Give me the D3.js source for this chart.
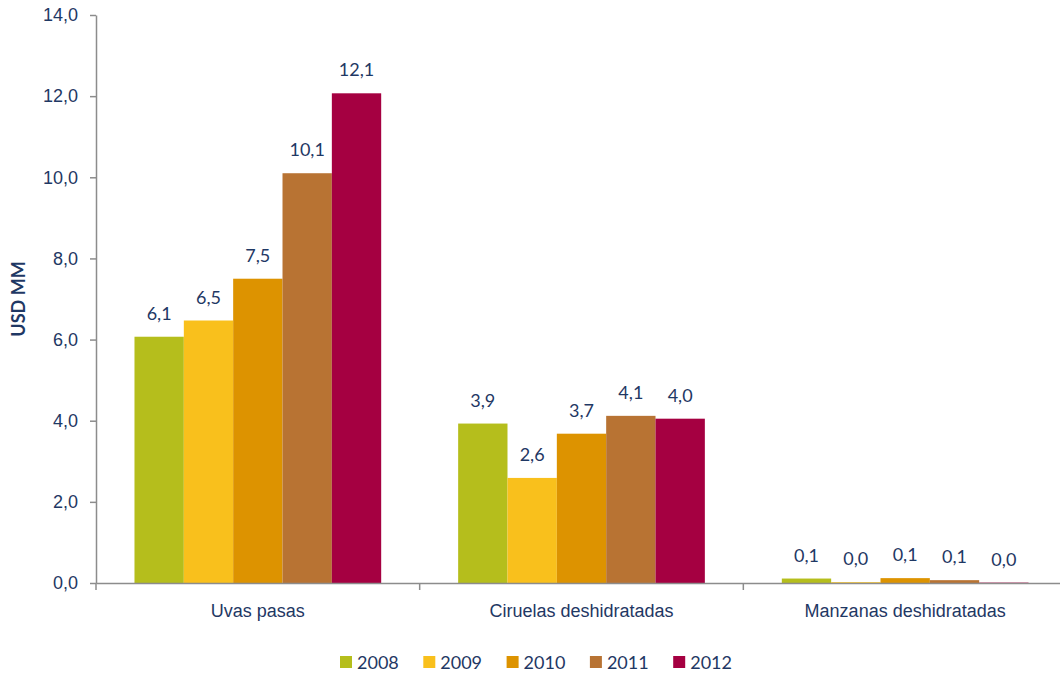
<!DOCTYPE html>
<html>
<head>
<meta charset="utf-8">
<script src="https://cdn.jsdelivr.net/npm/d3@7"></script>
<style>
  body { margin: 0; background: #fff; }
  svg { font-family: Lato, "Open Sans", sans-serif; }
</style>
</head>
<body>
<script>
// data
const categories = ["Uvas pasas", "Ciruelas deshidratadas", "Manzanas deshidratadas"]
const years = ["2008", "2009", "2010", "2011", "2012"]
const values2008 = [6.07, 3.93, 0.11]
const values2009 = [6.47, 2.59, 0.02]
const values2010 = [7.50, 3.68, 0.12]
const values2011 = [10.10, 4.12, 0.07]
const values2012 = [12.07, 4.05, 0.01]
const yTicks = [0, 2, 4, 6, 8, 10, 12, 14]
const colors = ["#B5BE1C", "#F9C01C", "#DD9300", "#B87333", "#A50041"]

const series = [values2008, values2009, values2010, values2011, values2012]

const width = 1060, height = 675
const margins = { left: 96, right: -7, top: 15, bottom: 92 }
const textColor = "#1F3864"
const axisColor = "#8C8C8C"
const fontSize = "18px"

const svg = d3.select("body").append("svg")
    .attr("width", width)
    .attr("height", height)

const y = d3.scaleLinear().domain([0, 14]).range([height - margins.bottom, margins.top])
const x0 = d3.scaleBand().domain(categories).range([margins.left, width - margins.right])
const x1 = d3.scaleBand().domain(years).range([0, x0.bandwidth()]).paddingOuter(0.78).paddingInner(0)

const fmt = v => d3.format(".1f")(v).replace(".", ",")

// bars
const groups = svg.selectAll(".grp")
    .data(categories)
    .enter().append("g")
    .attr("transform", d => "translate(" + x0(d) + ",0)")

groups.each(function (cat, ci) {
    const g = d3.select(this)
    years.forEach((yr, si) => {
        const v = series[si][ci]
        g.append("rect")
            .attr("x", x1(yr))
            .attr("y", y(v))
            .attr("width", x1.bandwidth())
            .attr("height", y(0) - y(v))
            .attr("fill", colors[si])
        g.append("text")
            .attr("x", x1(yr) + x1.bandwidth() / 2)
            .attr("y", y(v) - 17)
            .attr("text-anchor", "middle")
            .attr("fill", textColor)
            .style("font-size", fontSize)
            .text(fmt(v))
    })
})

// y axis
const yAxis = svg.append("g")
    .attr("transform", "translate(" + margins.left + ",0)")
    .call(d3.axisLeft(y).tickValues(yTicks).tickFormat(fmt).tickSize(6).tickSizeOuter(0))
yAxis.select(".domain").attr("stroke", axisColor).attr("stroke-width", 1.5)
yAxis.selectAll(".tick line").attr("stroke", axisColor).attr("stroke-width", 1.5)
yAxis.selectAll(".tick text")
    .attr("fill", textColor)
    .attr("x", -18)
    .style("font-size", fontSize)

// x axis
const xAxis = svg.append("g")
    .attr("transform", "translate(0," + y(0) + ")")
    .call(d3.axisBottom(x0).tickSize(0).tickSizeOuter(0))
xAxis.select(".domain").attr("stroke", axisColor).attr("stroke-width", 1.5)
xAxis.selectAll(".tick text")
    .attr("fill", textColor)
    .attr("y", 21)
    .style("font-size", fontSize)

// small ticks between categories
xAxis.selectAll(".sep")
    .data(categories)
    .enter().append("line")
    .attr("x1", d => x0(d))
    .attr("x2", d => x0(d))
    .attr("y1", 0)
    .attr("y2", 7)
    .attr("stroke", axisColor)
    .attr("stroke-width", 1.5)

// y axis title
svg.append("text")
    .attr("transform", "translate(25," + y(7) + ")rotate(-90)")
    .attr("text-anchor", "middle")
    .attr("fill", textColor)
    .style("font-size", "18px")
    .style("font-weight", "bold")
    .text("USD MM")

// legend
const legend = svg.append("g").attr("transform", "translate(340,662)")
years.forEach((yr, i) => {
    const item = legend.append("g").attr("transform", "translate(" + (i * 83.3) + ",0)")
    item.append("rect")
        .attr("x", 0).attr("y", -6)
        .attr("width", 12).attr("height", 12)
        .attr("fill", colors[i])
    item.append("text")
        .attr("x", 17).attr("y", 7)
        .attr("fill", textColor)
        .style("font-size", fontSize)
        .text(yr)
})
</script>
</body>
</html>
